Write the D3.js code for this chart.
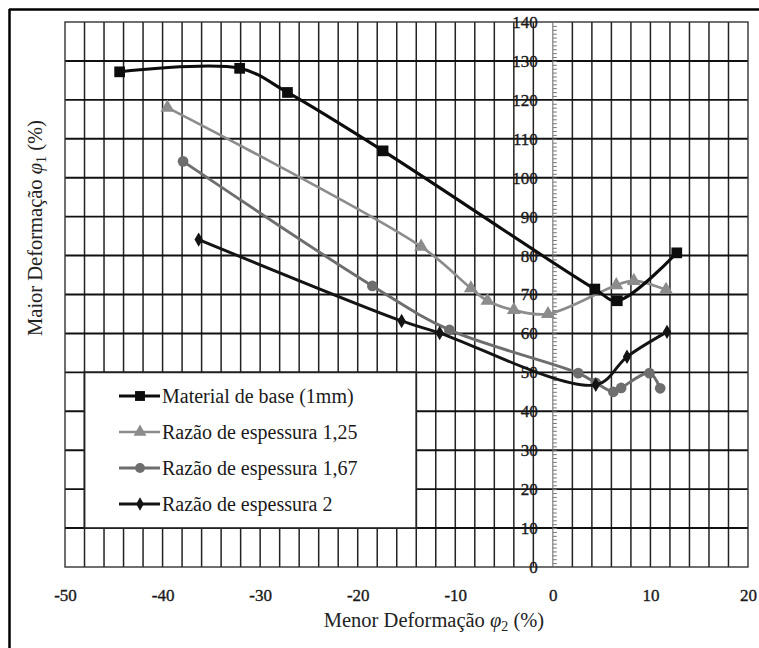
<!DOCTYPE html>
<html>
<head>
<meta charset="utf-8">
<script src="https://cdn.jsdelivr.net/npm/d3@7"></script>
<style>
  html, body { margin: 0; padding: 0; background: #fff; }
  svg { display: block; }
  text { font-family: "Liberation Serif", "Tinos", "Times New Roman", "DejaVu Serif", serif; }
</style>
</head>
<body>
<svg id="chart" width="759" height="648"></svg>
<script>
// ---------- data ----------
const seriesNames = ["Material de base (1mm)", "Razão de espessura 1,25", "Razão de espessura 1,67", "Razão de espessura 2"];
const baseX   = [-44.4, -32.1, -27.2, -17.4, 4.3, 6.6, 12.7];
const baseY   = [127.2, 128.1, 121.9, 106.9, 71.4, 68.4, 80.7];
const r125X   = [-39.5, -13.5, -8.4, -6.7, -4.0, -0.5, 6.5, 8.3, 11.6];
const r125Y   = [118.0, 82.3, 71.6, 68.4, 66.0, 65.0, 72.4, 73.5, 71.2];
const r167X   = [-37.9, -18.5, -10.6, 2.6, 4.4, 6.2, 7.0, 9.9, 11.0];
const r167Y   = [104.2, 72.2, 60.9, 49.8, 47.3, 45.0, 46.0, 49.8, 45.9];
const r2X     = [-36.3, -15.5, -11.6, 4.4, 7.6, 11.7];
const r2Y     = [84.1, 63.2, 60.1, 46.8, 54.0, 60.4];
const xTicks  = [-50, -40, -30, -20, -10, 0, 10, 20];
const yTicks  = [0, 10, 20, 30, 40, 50, 60, 70, 80, 90, 100, 110, 120, 130, 140];
const xTitle  = "Menor Deformação";
const yTitle  = "Maior Deformação";

// ---------- setup ----------
const svg = d3.select("#chart");
const x = d3.scaleLinear().domain([-50, 20]).range([65, 748]);
const y = d3.scaleLinear().domain([0, 140]).range([567, 22]);

// outer frame (left & top visible)
svg.append("line").attr("x1", 9.5).attr("x2", 9.5).attr("y1", 9).attr("y2", 648)
  .attr("stroke", "#000").attr("stroke-width", 2.5);
svg.append("line").attr("x1", 9).attr("x2", 759).attr("y1", 9.5).attr("y2", 9.5)
  .attr("stroke", "#000").attr("stroke-width", 2.5);

// gridlines
const grid = svg.append("g");
const vGrid = d3.range(-48, 20, 2).filter(v => v !== 0);
grid.selectAll("line.v").data(vGrid).join("line")
  .attr("x1", d => x(d)).attr("x2", d => x(d))
  .attr("y1", y(0)).attr("y2", y(140))
  .attr("stroke", "#222").attr("stroke-width", 1.5);
grid.selectAll("line.h").data(d3.range(10, 140, 10)).join("line")
  .attr("x1", x(-50)).attr("x2", x(20))
  .attr("y1", d => y(d)).attr("y2", d => y(d))
  .attr("stroke", "#111").attr("stroke-width", 1.9);
grid.append("rect")
  .attr("x", x(-50)).attr("y", y(140))
  .attr("width", x(20) - x(-50)).attr("height", y(0) - y(140))
  .attr("fill", "none").attr("stroke", "#333").attr("stroke-width", 1.4);

// y axis at x=0
svg.append("line").attr("x1", x(0)).attr("x2", x(0)).attr("y1", y(0)).attr("y2", y(140))
  .attr("stroke", "#666").attr("stroke-width", 1);
const minor = svg.append("g").attr("transform", `translate(${x(0)},0)`)
  .call(d3.axisRight(y).tickValues(d3.range(0, 141, 1)).tickSize(4).tickFormat(""));
minor.select(".domain").remove();
minor.selectAll(".tick line").attr("stroke", "#777").attr("stroke-width", 1);

const yAxis = svg.append("g").attr("transform", `translate(${x(0)},0)`)
  .call(d3.axisLeft(y).tickValues(yTicks).tickSize(0).tickPadding(15).tickFormat(d3.format("d")));
yAxis.select(".domain").remove();
yAxis.selectAll("text").attr("font-family", null).attr("font-size", 17).attr("fill", "#1a1a1a")
  .attr("stroke", "#1a1a1a").attr("stroke-width", 0.35);

const xAxis = svg.append("g").attr("transform", `translate(0,${y(0)})`)
  .call(d3.axisBottom(x).tickValues(xTicks).tickSize(0).tickPadding(22)
    .tickFormat(d => String(d)));
xAxis.select(".domain").remove();
xAxis.selectAll("text").attr("font-family", null).attr("font-size", 17).attr("fill", "#1a1a1a")
  .attr("stroke", "#1a1a1a").attr("stroke-width", 0.35);
svg.selectAll("g").attr("font-family", null);

// axis titles
const xt = svg.append("text").attr("x", 434).attr("y", 627).attr("text-anchor", "middle")
  .attr("font-size", 20.5).attr("fill", "#222");
xt.append("tspan").text(xTitle + " ");
xt.append("tspan").attr("font-style", "italic").text("φ");
xt.append("tspan").attr("dy", 4).attr("font-size", 14).text("2");
xt.append("tspan").attr("dy", -4).text(" (%)");

const yt = svg.append("text").attr("transform", "translate(42,228) rotate(-90)").attr("text-anchor", "middle")
  .attr("font-size", 20.5).attr("fill", "#222");
yt.append("tspan").text(yTitle + " ");
yt.append("tspan").attr("font-style", "italic").text("φ");
yt.append("tspan").attr("dy", 4).attr("font-size", 14).text("1");
yt.append("tspan").attr("dy", -4).text(" (%)");

// legend box (under data)
svg.append("rect")
  .attr("x", x(-48)).attr("y", y(50))
  .attr("width", x(-14) - x(-48)).attr("height", y(10) - y(50))
  .attr("fill", "#fff").attr("stroke", "#222").attr("stroke-width", 1.8);

// series definitions
const series = [
  { name: seriesNames[1], xs: r125X, ys: r125Y, color: "#8c8c8c", width: 2.7, sym: d3.symbolTriangle, size: 85 },
  { name: seriesNames[2], xs: r167X, ys: r167Y, color: "#6e6e6e", width: 2.9, sym: d3.symbolCircle, size: 90 },
  { name: seriesNames[3], xs: r2X,   ys: r2Y,   color: "#141414", width: 2.9, sym: d3.symbolDiamond, size: 60 },
  { name: seriesNames[0], xs: baseX, ys: baseY, color: "#0d0d0d", width: 3.1, sym: d3.symbolSquare, size: 115 }
];

const line = d3.line().x(d => x(d[0])).y(d => y(d[1])).curve(d3.curveCatmullRom.alpha(0.5));

series.forEach(s => {
  const pts = s.xs.map((v, i) => [v, s.ys[i]]);
  svg.append("path").datum(pts).attr("d", line)
    .attr("fill", "none").attr("stroke", s.color).attr("stroke-width", s.width)
    .attr("stroke-linejoin", "round");
  svg.append("g").selectAll("path").data(pts).join("path")
    .attr("transform", d => `translate(${x(d[0])},${y(d[1])})`)
    .attr("d", d3.symbol().type(s.sym).size(s.size))
    .attr("fill", s.color);
});

// legend entries
const legendOrder = [series[3], series[0], series[1], series[2]];
const lg = svg.append("g");
legendOrder.forEach((s, i) => {
  const cy = 396 + i * 36;
  lg.append("line").attr("x1", 119).attr("x2", 160).attr("y1", cy).attr("y2", cy)
    .attr("stroke", s.color).attr("stroke-width", s.width);
  lg.append("path").attr("transform", `translate(140,${cy})`)
    .attr("d", d3.symbol().type(s.sym).size(s.size * 0.85)).attr("fill", s.color);
  lg.append("text").attr("x", 162).attr("y", cy).attr("dy", "0.35em")
    .attr("font-size", 20).attr("fill", "#1a1a1a").text(s.name);
});
</script>
</body>
</html>
